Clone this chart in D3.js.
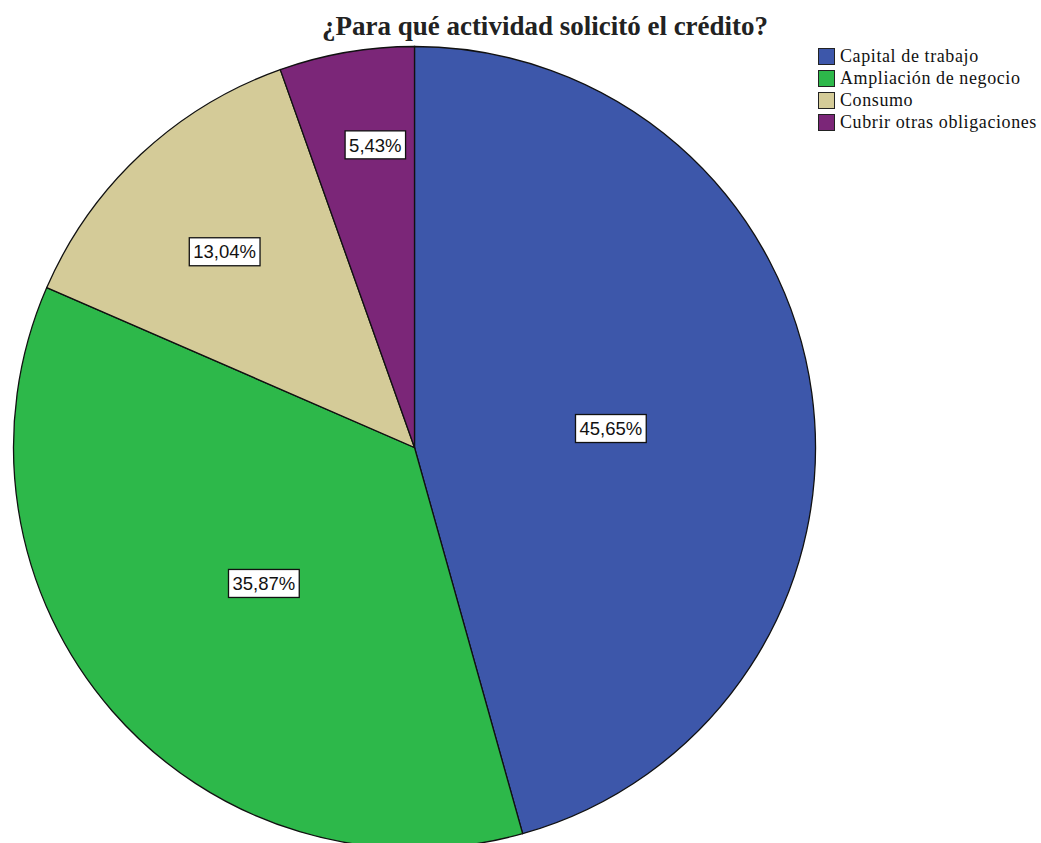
<!DOCTYPE html>
<html><head><meta charset="utf-8">
<script src="https://cdn.jsdelivr.net/npm/d3@7"></script>
<style>body{margin:0;background:#fff}svg{display:block}</style>
</head><body>
<script>
const categories = ["Capital de trabajo","Ampliación de negocio","Consumo","Cubrir otras obligaciones"];
const values = [45.65, 35.87, 13.04, 5.43];
const labels = ["45,65%","35,87%","13,04%","5,43%"];
const colors = ["#3d57aa","#2db84a","#d4cb98","#7b2678"];
const labelRadiusFrac = [0.492, 0.506, 0.680, 0.761];
const labelAngleShiftDeg = [2.3, -1.0, -1.1, 2.4];
const title = "¿Para qué actividad solicitó el crédito?";

const W = 1041, H = 843;
const cx = 414.5, cy = 447.5, R = 401;
const svg = d3.select("body").append("svg").attr("width", W).attr("height", H);

svg.append("text").attr("x", 545).attr("y", 35).attr("text-anchor","middle")
  .attr("font-family","Liberation Serif, Times New Roman, serif").attr("font-weight","bold")
  .attr("font-size", 27).attr("fill","#222").text(title);

const pie = d3.pie().sort(null).value(d => d);
const arcs = pie(values);
const arc = d3.arc().innerRadius(0).outerRadius(R);
const g = svg.append("g").attr("transform", `translate(${cx},${cy})`);
g.selectAll("path").data(arcs).enter().append("path")
  .attr("d", arc).attr("fill", (d,i) => colors[i])
  .attr("stroke","#111").attr("stroke-width",1.3);

arcs.forEach((d,i) => {
  const r = R * labelRadiusFrac[i];
  const a = (d.startAngle + d.endAngle)/2 + labelAngleShiftDeg[i]*Math.PI/180;
  const x = r*Math.sin(a), y = -r*Math.cos(a);
  const lg = g.append("g").attr("transform", `translate(${x},${y})`);
  const t = lg.append("text").attr("text-anchor","middle").attr("dy","0.36em")
    .attr("font-family","Liberation Sans, Arial, sans-serif").attr("font-size",18.5)
    .attr("fill","#111").text(labels[i]);
  const bb = t.node().getBBox();
  lg.insert("rect","text").attr("x", bb.x-4).attr("y", -14).attr("width", bb.width+8).attr("height", 28)
    .attr("fill","#fff").attr("stroke","#111").attr("stroke-width",1.3);
});

const leg = svg.append("g");
categories.forEach((c,i) => {
  const y = 49 + i*22;
  leg.append("rect").attr("x", 818.5).attr("y", y-0.5).attr("width", 16).attr("height", 16)
    .attr("fill", colors[i]).attr("stroke","#222").attr("stroke-width",1);
  leg.append("text").attr("x", 840).attr("y", y+13)
    .attr("font-family","Liberation Serif, Times New Roman, serif").attr("font-size",18)
    .attr("letter-spacing", 0.6)
    .attr("fill","#111").text(c);
});
</script>
</body></html>
